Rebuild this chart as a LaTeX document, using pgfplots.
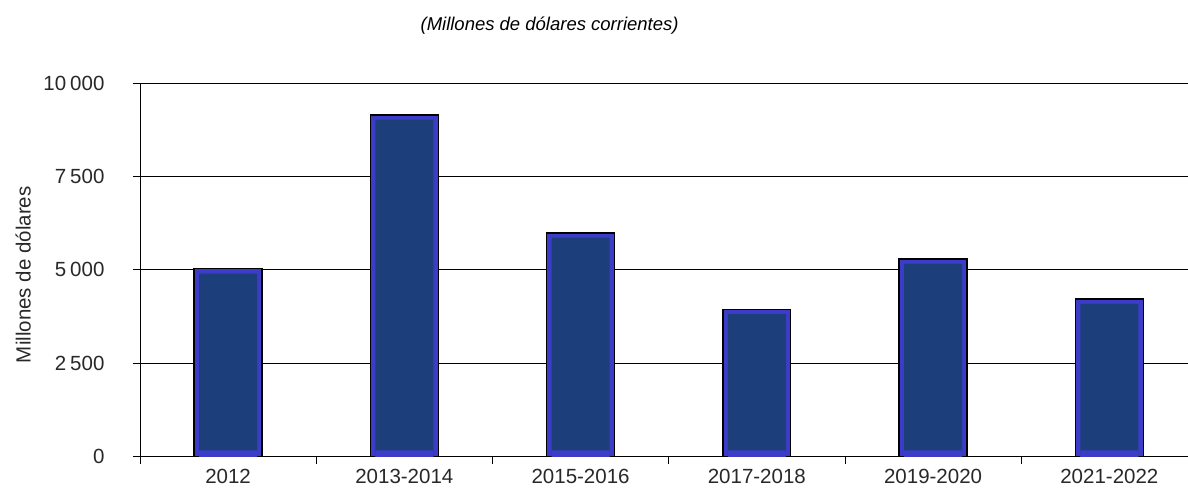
\documentclass[border=0pt]{standalone}
\usepackage{pgfplots}
\pgfplotsset{compat=1.18}
\usepackage{fontspec}
\setmainfont{Liberation Sans}
\definecolor{navy}{RGB}{28,63,124}
\definecolor{band}{RGB}{60,60,200}
\definecolor{txt}{RGB}{40,40,40}
\begin{document}
\begin{tikzpicture}
\begin{axis}[
  scale only axis,
  width=1048pt, height=374pt,
  xmin=-0.5, xmax=5.444,
  ymin=0, ymax=10000,
  axis x line=bottom, axis y line=left,
  axis line style={-, black, line width=0.8pt},
  clip=false,
  scaled y ticks=false,
  ytick={0,2500,5000,7500,10000},
  yticklabels={0,2\kern4pt500,5\kern4pt000,7\kern4pt500,10\kern4pt000},
  xtick={0,1,2,3,4,5},
  xticklabels={2012,2013-2014,2015-2016,2017-2018,2019-2020,2021-2022},
  minor xtick={-0.5,0.5,1.5,2.5,3.5,4.5},
  tick align=outside,
  major tick length=7pt, minor tick length=7pt,
  x tick style={draw=none},
  minor x tick style={draw=black, line width=0.8pt},
  y tick style={draw=black, line width=0.8pt},
  ymajorgrids, grid style={black, line width=0.8pt},
  tick label style={font=\fontsize{20.5}{22}\selectfont, text=txt},
  yticklabel style={xshift=-25pt},
  xticklabel style={yshift=-2pt},
  /pgf/number format/assume math mode=true,
  ylabel={Millones de dólares},
  every axis y label/.style={at={(axis description cs:-0.1115,0.487)}, rotate=90, anchor=center, font=\fontsize{20.5}{22}\selectfont, text=txt},
]
\addplot[ybar, bar shift=0pt, bar width=68pt, fill=band, draw=black, line width=1.3pt]
  coordinates {(0,5030) (1,9140) (2,5990) (3,3950) (4,5290) (5,4220)};
\addplot[ybar, bar shift=0pt, bar width=58pt, fill=navy, draw=none]
  coordinates {(0,4900) (1,9010) (2,5860) (3,3820) (4,5160) (5,4090)};
\addplot[ybar, bar shift=0pt, bar width=58pt, fill=band, draw=none]
  coordinates {(0,170) (1,170) (2,170) (3,170) (4,170) (5,170)};
\node[font=\fontsize{18.5}{20}\selectfont\itshape, text=black] at (axis description cs:0.391,1.153) {(Millones de dólares corrientes)};
\end{axis}
\path[use as bounding box] ([xshift=-140pt,yshift=-42pt]current axis.south west) rectangle ([yshift=83pt]current axis.north east);
\end{tikzpicture}
\end{document}
